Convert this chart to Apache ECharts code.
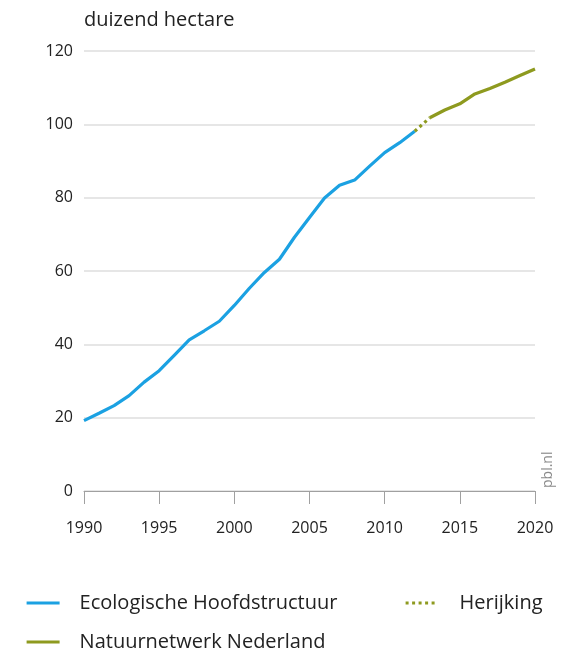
<!DOCTYPE html>
<html>
<head>
<meta charset="utf-8">
<script src="https://cdn.jsdelivr.net/npm/echarts@6/dist/echarts.min.js"></script>
<style>
    html, body { margin: 0; padding: 0; background: #fff; }
    #chart { width: 564px; height: 656px; }
</style>
</head>
<body>
<div id="chart"></div>
<script>
// duizend hectare
const ehsYears = [1990, 1991, 1992, 1993, 1994, 1995, 1996, 1997, 1998, 1999, 2000, 2001,
    2002, 2003, 2004, 2005, 2006, 2007, 2008, 2009, 2010, 2011, 2012];
const ehsValues = [19.2, 21.2, 23.3, 26.0, 29.7, 32.8, 37.0, 41.2, 43.7, 46.3, 50.6, 55.3,
    59.6, 63.2, 69.2, 74.6, 79.9, 83.4, 84.8, 88.6, 92.3, 95.0, 98.1];
const herijkingYears = [2012, 2013];
const herijkingValues = [98.1, 101.8];
const nnnYears = [2013, 2014, 2015, 2016, 2017, 2018, 2019, 2020];
const nnnValues = [101.8, 103.9, 105.6, 108.3, 109.8, 111.5, 113.3, 115.1];
const xTicks = [1990, 1995, 2000, 2005, 2010, 2015, 2020];

const FONT = '"Open Sans", "Noto Sans", sans-serif';
const BLUE = '#1ba1e2';
const OLIVE = '#8e9a1f';

const pairs = (xs, ys) => xs.map((x, i) => [x, ys[i]]);

// one legend box per entry, placed like the original
const legendBox = (name, left, top, iconWidth, textGap) => ({
    left: left,
    top: top,
    itemWidth: iconWidth,
    itemHeight: 4,
    itemStyle: {opacity: 0},
    lineStyle: {width: 3.2},
    textStyle: {fontFamily: FONT, fontSize: 20, color: '#222', padding: [0, 0, 0, textGap]},
    data: [name],
});

const chart = echarts.init(document.getElementById('chart'));

chart.setOption({
    animation: false,
    textStyle: {fontFamily: FONT},
    title: {
        text: 'duizend hectare',
        left: 79,
        top: 5,
        textStyle: {fontFamily: FONT, fontSize: 20, fontWeight: 'normal', color: '#222'},
    },
    grid: {left: 84, right: 29, top: 51, bottom: 165},
    xAxis: {
        type: 'value',
        min: 1990,
        max: 2020,
        interval: 5,
        axisLine: {lineStyle: {color: '#a0a0a0', width: 1}},
        axisTick: {show: true, length: 13, lineStyle: {color: '#a0a0a0'}},
        axisLabel: {
            color: '#222',
            fontSize: 16,
            margin: 29,
            formatter: v => (xTicks.indexOf(v) >= 0 ? String(v) : ''),
        },
        splitLine: {show: false},
    },
    yAxis: {
        type: 'value',
        min: 0,
        max: 120,
        interval: 20,
        axisLine: {show: false},
        axisTick: {show: false},
        axisLabel: {color: '#222', fontSize: 16, margin: 11},
        splitLine: {lineStyle: {color: '#dedede', width: 1.5}},
    },
    legend: [
        legendBox('Ecologische Hoofdstructuur', 20, 588, 33, 15),
        legendBox('Natuurnetwerk Nederland', 20, 627, 33, 15),
        legendBox('Herijking', 399, 588, 30, 19),
    ],
    graphic: [
        {
            type: 'text',
            x: 541,
            y: 488,
            rotation: Math.PI / 2,
            style: {text: 'pbl.nl', fill: '#8a8a8a', font: '14px ' + FONT},
        },
    ],
    series: [
        {
            name: 'Ecologische Hoofdstructuur',
            type: 'line',
            symbol: 'none',
            data: pairs(ehsYears, ehsValues),
            lineStyle: {color: BLUE, width: 3.2},
            itemStyle: {color: BLUE},
        },
        {
            name: 'Herijking',
            type: 'line',
            symbol: 'none',
            data: pairs(herijkingYears, herijkingValues),
            lineStyle: {color: OLIVE, width: 3.2, type: [3, 3.5]},
            itemStyle: {color: OLIVE},
        },
        {
            name: 'Natuurnetwerk Nederland',
            type: 'line',
            symbol: 'none',
            data: pairs(nnnYears, nnnValues),
            lineStyle: {color: OLIVE, width: 3.2},
            itemStyle: {color: OLIVE},
        },
    ],
});
</script>
</body>
</html>
